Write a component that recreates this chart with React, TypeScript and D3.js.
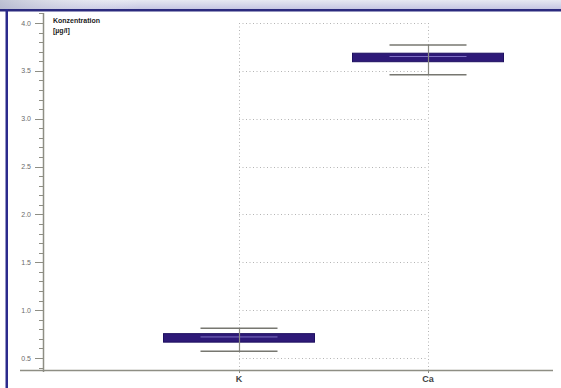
import React from "react";
import * as d3 from "d3";

const categories = ["K", "Ca"];
const meanValues = [0.71, 3.64];
const lineValues = [0.72, 3.65];
const upperValues = [0.81, 3.77];
const lowerValues = [0.57, 3.46];
const majorTicks = [0.5, 1.0, 1.5, 2.0, 2.5, 3.0, 3.5, 4.0];
const minorTicks = d3.range(4, 42).map((v) => v / 10);

const W = 561;
const H = 388;

export default function App() {
  const y = d3.scaleLinear().domain([0.5, 4.0]).range([358, 23]);
  const x = d3.scalePoint<string>().domain(categories).range([239, 428]);
  const barW = 151;
  const barH = 8.5;
  const capW = 77;
  const axisX = 43;
  const axisY = 370;
  const fmt = d3.format(".1f");

  return (
    <svg width={W} height={H} style={{ position: "absolute", left: 0, top: 0, background: "#fff" }}>
      <defs>
        <linearGradient id="band" x1="0" y1="0" x2="0" y2="1">
          <stop offset="0" stopColor="#e6e8f2" />
          <stop offset="1" stopColor="#c4c4e2" />
        </linearGradient>
        <linearGradient id="bandH" x1="0" y1="0" x2="1" y2="0">
          <stop offset="0" stopColor="#b0b4c8" stopOpacity="0.7" />
          <stop offset="0.25" stopColor="#ffffff" stopOpacity="0" />
        </linearGradient>
      </defs>
      <rect x={0} y={0} width={W} height={H} fill="#fff" />
      <rect x={0} y={0} width={W} height={9.5} fill="url(#band)" />
      <rect x={0} y={0} width={W} height={9.5} fill="url(#bandH)" />
      <rect x={0} y={9} width={W} height={2.5} fill="#2b2a7e" />
      <rect x={5.5} y={9} width={2.5} height={H - 9} fill="#2b2a8c" />

      {/* dotted grid */}
      <g stroke="#b4b4b4" strokeWidth={1} strokeDasharray="1,2.5" fill="none">
        {majorTicks.map((t) => (
          <line key={"h" + t} x1={x("K")!} x2={x("Ca")!} y1={Math.round(y(t)) + 0.5} y2={Math.round(y(t)) + 0.5} />
        ))}
        {categories.map((c) => (
          <line key={"v" + c} x1={x(c)! + 0.5} x2={x(c)! + 0.5} y1={y(4.0)} y2={axisY} />
        ))}
      </g>

      {/* y axis */}
      <line x1={axisX + 0.5} x2={axisX + 0.5} y1={13} y2={372} stroke="#8e8e84" strokeWidth={1.5} />
      {minorTicks.map((t) => (
        <line key={"m" + t} x1={39} x2={axisX} y1={Math.round(y(t)) + 0.5} y2={Math.round(y(t)) + 0.5} stroke="#8e8e84" strokeWidth={1} />
      ))}
      {majorTicks.map((t) => (
        <g key={"t" + t}>
          <line x1={35} x2={axisX} y1={Math.round(y(t)) + 0.5} y2={Math.round(y(t)) + 0.5} stroke="#8e8e84" strokeWidth={1} />
          <text x={31} y={y(t) + 2.5} textAnchor="end" fontFamily="Liberation Sans, Arial, sans-serif" fontSize={7} fill="#6a6a6a">
            {fmt(t)}
          </text>
        </g>
      ))}
      <text x={53} y={23} fontFamily="Liberation Sans, Arial, sans-serif" fontSize={7} fontWeight="bold" fill="#222">
        Konzentration
      </text>
      <text x={53} y={33} fontFamily="Liberation Sans, Arial, sans-serif" fontSize={7} fontWeight="bold" fill="#222">
        [µg/l]
      </text>

      {/* x axis */}
      <line x1={20} x2={553} y1={axisY + 0.5} y2={axisY + 0.5} stroke="#8e8e84" strokeWidth={1.5} />
      {categories.map((c) => (
        <g key={"x" + c}>
          <line x1={x(c)! + 0.5} x2={x(c)! + 0.5} y1={axisY} y2={axisY + 3} stroke="#8e8e84" />
          <text x={x(c)!} y={382} textAnchor="middle" fontFamily="Liberation Sans, Arial, sans-serif" fontSize={9} fontWeight="bold" fill="#444">
            {c}
          </text>
        </g>
      ))}

      {/* bars */}
      {categories.map((c, i) => {
        const cx = x(c)!;
        return (
          <g key={"b" + c}>
            <rect x={cx - barW / 2} y={y(meanValues[i]) - barH / 2} width={barW} height={barH} fill="#2e1a78" stroke="#1e1060" strokeWidth={1} />
            <line x1={cx - capW / 2} x2={cx + capW / 2} y1={y(lineValues[i])} y2={y(lineValues[i])} stroke="#7e70c4" strokeWidth={1} />
            <line x1={cx + 0.5} x2={cx + 0.5} y1={y(upperValues[i])} y2={y(lowerValues[i])} stroke="#888880" strokeWidth={1.2} />
            <line x1={cx - capW / 2} x2={cx + capW / 2} y1={y(upperValues[i])} y2={y(upperValues[i])} stroke="#777770" strokeWidth={1.5} />
            <line x1={cx - capW / 2} x2={cx + capW / 2} y1={y(lowerValues[i])} y2={y(lowerValues[i])} stroke="#777770" strokeWidth={1.5} />
          </g>
        );
      })}
    </svg>
  );
}
